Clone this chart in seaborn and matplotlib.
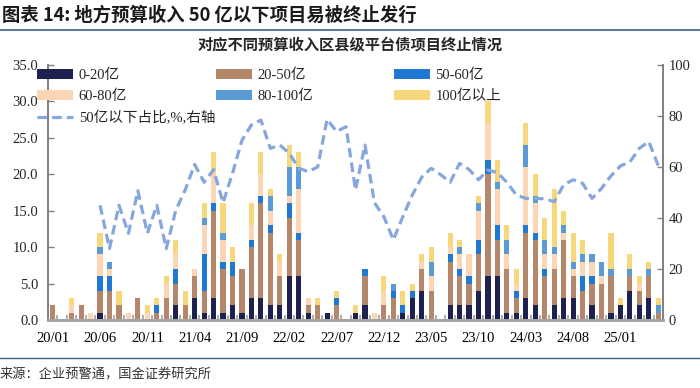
import numpy as np
import pandas as pd
import matplotlib
matplotlib.use('Agg')
import matplotlib.pyplot as plt
import seaborn as sns
from matplotlib.patches import Patch
from matplotlib.lines import Line2D

# monthly categories 2020/01 - 2025/05
months = pd.date_range('2020-01-01', periods=65, freq='MS').strftime('%y/%m').tolist()

# terminated projects by local budget revenue bracket (count)
rev_0_20 = [0, 0, 0, 0, 0, 1, 0, 0, 0, 0, 0, 0, 0, 2, 0, 3, 1, 3, 1, 2,
            1, 3, 3, 2, 2, 6, 6, 1, 0, 1, 0, 0, 1, 2, 0, 0, 0, 1, 3, 4,
            0, 0, 2, 2, 2, 4, 6, 6, 1, 1, 3, 2, 0, 2, 3, 3, 0, 2, 0, 1,
            2, 4, 2, 3, 0]
rev_20_50 = [2, 0, 1, 2, 0, 3, 4, 2, 0, 3, 0, 1, 3, 3, 2, 3, 3, 12, 6, 4,
             6, 7, 13, 10, 4, 8, 5, 1, 2, 0, 2, 0, 0, 4, 0, 2, 3, 0, 0, 3,
             4, 0, 6, 4, 3, 5, 14, 5, 6, 2, 9, 9, 6, 5, 8, 3, 4, 3, 5, 5,
             0, 2, 2, 3, 1]
rev_50_60 = [0, 0, 0, 0, 0, 2, 2, 0, 0, 0, 0, 1, 0, 2, 0, 0, 5, 1, 1, 2,
             0, 1, 1, 1, 0, 2, 1, 0, 0, 0, 1, 0, 0, 1, 0, 0, 1, 1, 1, 0,
             0, 0, 1, 1, 1, 2, 2, 2, 0, 1, 1, 1, 1, 0, 0, 0, 2, 1, 0, 0,
             0, 0, 0, 0, 0]
rev_60_80 = [0, 0, 1, 0, 1, 3, 1, 0, 1, 0, 1, 0, 2, 2, 0, 1, 4, 4, 3, 0,
             0, 2, 3, 2, 2, 1, 6, 1, 0, 0, 0, 0, 0, 0, 1, 2, 0, 0, 0, 1,
             2, 0, 1, 2, 3, 4, 5, 5, 2, 1, 8, 4, 2, 2, 1, 1, 2, 2, 1, 0,
             0, 0, 1, 0, 0]
rev_80_100 = [0, 0, 0, 0, 0, 1, 1, 0, 0, 0, 0, 0, 0, 0, 0, 0, 1, 0, 1, 0,
              0, 0, 0, 2, 0, 4, 3, 0, 0, 0, 0, 0, 0, 0, 0, 0, 1, 0, 0, 0,
              2, 0, 0, 1, 0, 1, 0, 1, 2, 0, 3, 1, 2, 1, 1, 1, 1, 1, 2, 1,
              0, 1, 0, 1, 1]
rev_100_up = [0, 0, 1, 0, 0, 2, 0, 2, 0, 0, 1, 1, 1, 2, 2, 0, 2, 3, 4, 2,
              0, 3, 3, 1, 1, 3, 2, 0, 1, 0, 1, 0, 1, 0, 0, 2, 0, 2, 1, 1,
              2, 0, 2, 1, 0, 1, 3, 3, 2, 2, 3, 3, 3, 8, 2, 4, 2, 0, 0, 5,
              1, 2, 1, 1, 1]

# share of projects below 5bn budget revenue (%), right axis, from 20/06
share_below50 = [45, 28, 45, 34, 50.7, 34, 45, 28, 43, 51,
                 61, 54, 59, 46, 57.5, 70.5, 76.5, 78.4, 67.3, 68.6,
                 65.4, 59.5, 58.2, 60, 78.7, 73.9, 75.8, 51, 68.6, 46,
                 40.5, 31.4, 40.5, 49, 56, 59.5, 57, 54, 61.4, 59,
                 55, 58.8, 57.8, 54, 49, 47.7, 47.7, 47.5, 46.4, 53,
                 55, 53.6, 47.7, 51.6, 56.5, 60.4, 62, 67.3, 70, 60.5]

series_labels = ['0-20亿', '20-50亿', '50-60亿', '60-80亿', '80-100亿', '100亿以上']
series_values = [rev_0_20, rev_20_50, rev_50_60, rev_60_80, rev_80_100, rev_100_up]
colors = ['#1E2050', '#B4876A', '#1F78D2', '#FCD5B5', '#5B9BD5', '#F7D77B']
line_color = '#86A6DE'

sns.set_theme(style='white')
plt.rcParams['font.family'] = ['Liberation Serif', 'Noto Sans CJK SC']
cjk = ['Noto Sans CJK SC', 'DejaVu Sans']

fig = plt.figure(figsize=(7, 3.88), dpi=100)
ax = fig.add_axes([48 / 700, 1 - 320 / 388, 615 / 700, 255 / 388])
ax2 = ax.twinx()

x = np.arange(len(months))
bottom = np.zeros(len(months))
for vals, lab, col in zip(series_values, series_labels, colors):
    ax.bar(x, vals, bottom=bottom, width=0.55, color=col, linewidth=0, label=lab)
    bottom += np.array(vals)

line_df = pd.DataFrame({'pos': x[5:], 'share': share_below50})
sns.lineplot(data=line_df, x='pos', y='share', ax=ax2, color=line_color,
             lw=2.3, linestyle=(0, (3, 1.6)))

ax.set_xlim(-0.5, 64.5)
ax.set_ylim(0, 35)
ax2.set_ylim(0, 100)
ax.set_yticks(np.arange(0, 36, 5))
ax.set_yticklabels([f'{v:.1f}' for v in np.arange(0, 36, 5)])
ax2.set_yticks(np.arange(0, 101, 20))
ax2.set_yticklabels([str(v) for v in range(0, 101, 20)])
ax.set_xticks(x[::5])
ax.set_xticklabels(months[::5])
ax.set_xticks(np.arange(0.5, 64, 1), minor=True)
ax.set_xlabel('')
ax.set_ylabel('')
ax2.set_xlabel('')
ax2.set_ylabel('')

ax.tick_params(axis='x', which='major', length=0, pad=9, labelsize=10.5, colors='black')
ax.tick_params(axis='x', which='minor', direction='in', length=3.5, width=1.2,
               color='#A0A0A0', bottom=True)
ax.tick_params(axis='y', direction='in', length=4, width=1, color='#808080',
               pad=7, labelsize=10.5, left=True)
ax2.tick_params(axis='y', direction='in', length=4, width=1, color='#808080',
                pad=4, labelsize=10.5, right=True)

for a in (ax, ax2):
    a.spines['top'].set_visible(False)
    a.spines['left'].set_color('#808080')
    a.spines['right'].set_color('#808080')
    a.spines['bottom'].set_color('#A6A6A6')
    a.spines['bottom'].set_linewidth(2)
    a.grid(False)

# legends, three fixed columns like the original
patches = [Patch(facecolor=c, edgecolor='none', label=l) for c, l in zip(colors, series_labels)]
line_handle = Line2D([], [], color=line_color, lw=2.3, linestyle=(0, (3, 1.6)),
                     label='50亿以下占比,%,右轴')
col_groups = [[patches[0], patches[3], line_handle],
              [patches[1], patches[4]],
              [patches[2], patches[5]]]
col_x = [37, 216, 394]
for grp, cx in zip(col_groups, col_x):
    fig.legend(handles=grp, loc='upper left', bbox_to_anchor=(cx / 700, 1 - 69 / 388),
               frameon=False, fontsize=10.5, handlelength=2.5, handleheight=0.65,
               handletextpad=0.35, labelspacing=0.5, borderpad=0, borderaxespad=0)

fig.text(0.003, 1 - 15 / 388, '图表 14: 地方预算收入 50 亿以下项目易被终止发行',
         fontsize=13.2, weight='bold', style='italic', family=cjk, va='center',
         color='#1A1A1A')
fig.add_artist(Line2D([0, 1], [1 - 30 / 388] * 2, transform=fig.transFigure,
                      color='#3A6189', lw=1.2))
fig.text(0.5, 1 - 45 / 388, '对应不同预算收入区县级平台债项目终止情况',
         fontsize=11, weight='bold', family=cjk, ha='center', va='center')
fig.add_artist(Line2D([0, 1], [1 - 358 / 388] * 2, transform=fig.transFigure,
                      color='#3A6189', lw=1.0))
fig.text(0.0, 1 - 375 / 388, '来源：企业预警通，国金证券研究所',
         fontsize=9.5, family=cjk, va='center', color='#333333')

fig.savefig('out.png', dpi=100)
